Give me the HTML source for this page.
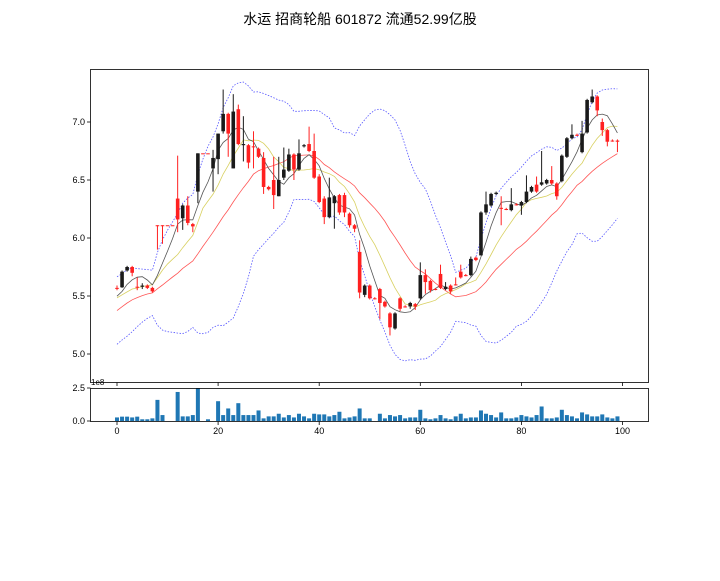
<!DOCTYPE html>
<html><head><meta charset="utf-8"><style>
body{margin:0;background:#fff;}
svg text{font-family:"Liberation Sans","DejaVu Sans",sans-serif;font-size:9px;fill:#000;}
</style></head><body>
<svg id="s" width="720" height="576" xmlns="http://www.w3.org/2000/svg">
<rect width="720" height="576" fill="#fff"/>
<text x="360" y="24" text-anchor="middle" style="font-family:'Liberation Sans','Noto Sans CJK SC',sans-serif;font-size:14px">水运  招商轮船 601872 流通52.99亿股</text>
</svg>
<script>
const D=[
[5.57,5.57,5.59,5.55],[5.575,5.71,5.72,5.57],[5.72,5.75,5.76,5.71],[5.75,5.70,5.76,5.67],[5.58,5.58,5.66,5.55],
[5.58,5.59,5.61,5.56],[5.59,5.57,5.60,5.56],[5.57,5.54,5.58,5.53],[6.11,6.11,6.11,5.90],[6.11,6.11,6.11,5.95],
[6.11,6.11,6.11,6.11],[6.11,6.11,6.11,6.11],[6.34,6.16,6.71,6.05],[6.17,6.28,6.29,6.07],[6.28,6.13,6.36,6.11],
[6.12,6.10,6.13,6.05],[6.40,6.73,6.73,6.30],[6.73,6.73,6.73,6.73],[6.73,6.73,6.73,6.73],[6.60,6.69,6.76,6.40],
[6.68,6.90,6.90,6.55],[6.92,7.07,7.28,6.90],[7.07,6.90,7.08,6.70],[6.60,7.09,7.24,6.60],[7.11,6.81,7.15,6.80],
[6.80,6.81,7.05,6.66],[6.80,6.65,6.81,6.60],[6.79,6.79,6.92,6.60],[6.77,6.70,6.78,6.69],[6.69,6.44,6.74,6.38],
[6.44,6.42,6.45,6.41],[6.50,6.37,6.70,6.25],[6.36,6.50,6.70,6.36],[6.52,6.59,6.78,6.50],[6.58,6.72,6.77,6.57],
[6.72,6.59,6.73,6.50],[6.59,6.73,6.85,6.58],[6.79,6.80,6.81,6.78],[6.81,6.75,6.96,6.74],[6.75,6.52,6.90,6.51],
[6.53,6.31,6.55,6.30],[6.34,6.18,6.36,6.12],[6.18,6.35,6.52,6.17],[6.30,6.36,6.37,6.08],[6.37,6.22,6.38,6.20],
[6.37,6.22,6.39,6.18],[6.21,6.11,6.22,6.09],[6.11,6.08,6.12,6.05],[5.88,5.53,5.98,5.48],[5.51,5.59,5.60,5.49],
[5.59,5.48,5.60,5.47],[5.48,5.48,5.49,5.47],[5.56,5.44,5.57,5.30],[5.45,5.41,5.46,5.40],[5.35,5.23,5.36,5.16],
[5.22,5.35,5.36,5.21],[5.48,5.39,5.49,5.37],[5.41,5.41,5.42,5.40],[5.41,5.44,5.45,5.39],[5.43,5.41,5.44,5.38],
[5.48,5.68,5.79,5.47],[5.68,5.62,5.73,5.52],[5.63,5.55,5.64,5.53],[5.56,5.56,5.57,5.55],[5.69,5.57,5.77,5.56],
[5.56,5.58,5.62,5.55],[5.59,5.54,5.60,5.52],[5.60,5.60,5.66,5.59],[5.71,5.66,5.77,5.65],[5.68,5.68,5.69,5.67],
[5.68,5.82,5.84,5.67],[5.83,5.81,5.84,5.80],[5.85,6.22,6.23,5.85],[6.22,6.29,6.40,6.20],[6.28,6.38,6.39,6.27],
[6.38,6.39,6.40,6.37],[6.26,6.26,6.36,6.11],[6.25,6.25,6.26,6.24],[6.24,6.29,6.43,6.23],[6.29,6.29,6.30,6.28],
[6.28,6.31,6.32,6.20],[6.31,6.40,6.54,6.30],[6.40,6.44,6.45,6.39],[6.46,6.40,6.53,6.39],[6.46,6.48,6.75,6.45],
[6.47,6.50,6.51,6.46],[6.50,6.47,6.62,6.46],[6.47,6.36,6.48,6.33],[6.49,6.71,6.72,6.48],[6.70,6.86,6.87,6.69],
[6.86,6.89,6.98,6.85],[6.89,6.89,6.90,6.88],[6.74,6.90,7.01,6.73],[6.91,7.19,7.20,6.90],[7.17,7.22,7.28,7.16],
[7.22,7.10,7.23,7.05],[7.00,6.93,7.03,6.88],[6.93,6.83,6.94,6.79],[6.84,6.84,6.85,6.83],[6.84,6.83,6.85,6.74]];
const V=[.27,.33,.33,.27,.33,.13,.13,.2,1.6,.45,0,0,2.2,.35,.35,.45,2.5,0,.13,0,1.5,.45,.95,.45,1.35,.45,.45,.45,.8,.2,.35,.35,.55,.27,.45,.27,.55,.35,.2,.55,.5,.5,.35,.45,.7,.2,.27,.35,.95,.2,.2,0,.55,.2,.45,.35,.45,.2,.27,.27,.85,.2,.13,.2,.45,.2,.13,.35,.55,.2,.27,.27,.8,.55,.45,.27,.65,.2,.2,.27,.45,.35,.27,.45,1.1,.2,.2,.27,.85,.45,.35,.2,.65,.5,.35,.35,.5,.27,.2,.35];
const pre=[5.0,5.05,5.1,5.15,5.2,5.25,5.3,5.35,5.4,5.45,5.4,5.45,5.5,5.45,5.5,5.45,5.5,5.45,5.5,5.47];
const C=pre.concat(D.map(d=>d[1]));
const X=i=>117+i*5.055, Y=p=>122+(7-p)*116, VY=v=>421-v*13.2;
let h='';
function ma(n,k){const a=C.slice(20+k-n+1,20+k+1);return a.reduce((s,x)=>s+x,0)/n;}
function sd(k){const m=ma(20,k);const a=C.slice(20+k-19,20+k+1);return Math.sqrt(a.reduce((s,x)=>s+(x-m)*(x-m),0)/20);}
function line(f,st,extra){let p=[];for(let i=0;i<100;i++)p.push(X(i).toFixed(1)+','+Y(f(i)).toFixed(1));h+=`<polyline points="${p.join(' ')}" fill="none" stroke="${st}" stroke-width="0.8" ${extra||''}/>`;}
line(i=>ma(20,i)+2*sd(i),'#5555ff','stroke-dasharray="1.5,1.5"');
line(i=>ma(20,i)-2*sd(i),'#5555ff','stroke-dasharray="1.5,1.5"');
line(i=>ma(20,i),'#ff5555');
line(i=>ma(10,i),'#d8d060');
line(i=>ma(5,i),'#555');
D.forEach((d,i)=>{const [o,c,hi,lo]=d;const col=c>=o&&c!=o?'#1a1a1a':(c==o&&i!=0&&i!=4&&i!=37&&i!=75&&i!=79&&i!=77?'#ff2020':(c>o?'#1a1a1a':'#ff2020'));const x=X(i);
const top=Y(Math.max(o,c)),bot=Y(Math.min(o,c));
h+=`<line x1="${x}" x2="${x}" y1="${Y(hi)}" y2="${Y(lo)}" stroke="${col}" stroke-width="1"/>`;
h+=`<rect x="${x-1.8}" y="${top}" width="3.6" height="${Math.max(bot-top,1)}" fill="${col}"/>`;});
V.forEach((v,i)=>{if(v>0)h+=`<rect x="${X(i)-2}" y="${VY(v)}" width="4" height="${421-VY(v)}" fill="#1f77b4"/>`;});
h+=`<rect x="90.5" y="69.5" width="558" height="313" fill="none" stroke="#000" stroke-width="0.8"/>`;
h+=`<rect x="90.5" y="388.5" width="558" height="33" fill="none" stroke="#000" stroke-width="0.8"/>`;
[5,5.5,6,6.5,7].forEach(p=>{const y=Y(p);h+=`<line x1="87" x2="90.5" y1="${y}" y2="${y}" stroke="#000" stroke-width="0.8"/><text x="85" y="${y+3}" text-anchor="end">${p.toFixed(1)}</text>`;});
[0,2.5].forEach(v=>{const y=VY(v);h+=`<line x1="87" x2="90.5" y1="${y}" y2="${y}" stroke="#000" stroke-width="0.8"/><text x="85" y="${y+3}" text-anchor="end">${v.toFixed(1)}</text>`;});
[0,20,40,60,80,100].forEach(t=>{const x=X(t);h+=`<line x1="${x}" x2="${x}" y1="382.5" y2="386" stroke="#000" stroke-width="0.8"/><line x1="${x}" x2="${x}" y1="421.5" y2="425" stroke="#000" stroke-width="0.8"/><text x="${x}" y="434" text-anchor="middle">${t}</text>`;});
h+=`<text x="91" y="385" style="font-size:8px">1e8</text>`;
document.getElementById('s').insertAdjacentHTML('beforeend',h);
</script>
</body></html>
